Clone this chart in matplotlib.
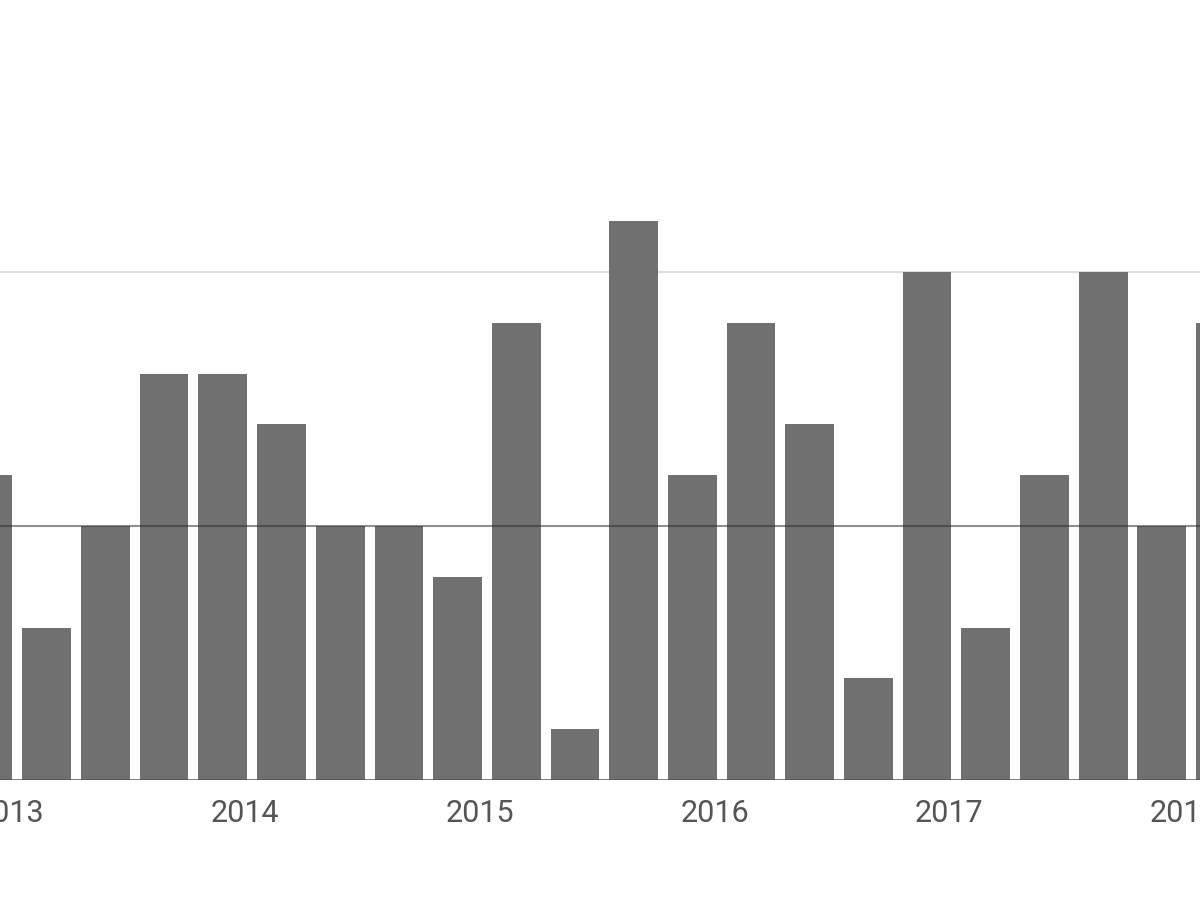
import matplotlib
matplotlib.use("Agg")
import matplotlib.pyplot as plt

# quarterly counts (first and last bars are cut off)
values = [6, 3, 5, 8, 8, 7, 5, 5, 4, 9, 1, 11, 6, 9, 7, 2, 10, 3, 6, 10, 5, 9]
years = ["2013", "2014", "2015", "2016", "2017", "2018"]
mean_level = 5

plt.rcParams['font.family'] = ['Roboto', 'DejaVu Sans']

fig = plt.figure(figsize=(12, 9), dpi=100)
ax = fig.add_axes([0, 120 / 900, 1, 780 / 900])

xs = list(range(len(values)))
ax.bar(xs, values, width=0.83, color="#707070", zorder=2)

# light grid behind, darker level line drawn over the bars
ax.axhline(10, color="#dddddd", linewidth=1.5, zorder=1)
ax.axhline(mean_level, color="#333333", linewidth=1.5, alpha=0.55, zorder=3)
ax.axhline(0, color="#555555", linewidth=1.8, zorder=3)

ax.set_xlim(0.204, 20.65)
ax.set_ylim(0, 780 / 50.8)

ax.set_xticks([4 * k + 0.38 for k in range(len(years))])
ax.set_xticklabels(years, fontsize=22, color="#555555")
ax.tick_params(axis="x", length=0, pad=14)
ax.set_yticks([])
for s in ax.spines.values():
    s.set_visible(False)

fig.savefig("out.png", dpi=100)
